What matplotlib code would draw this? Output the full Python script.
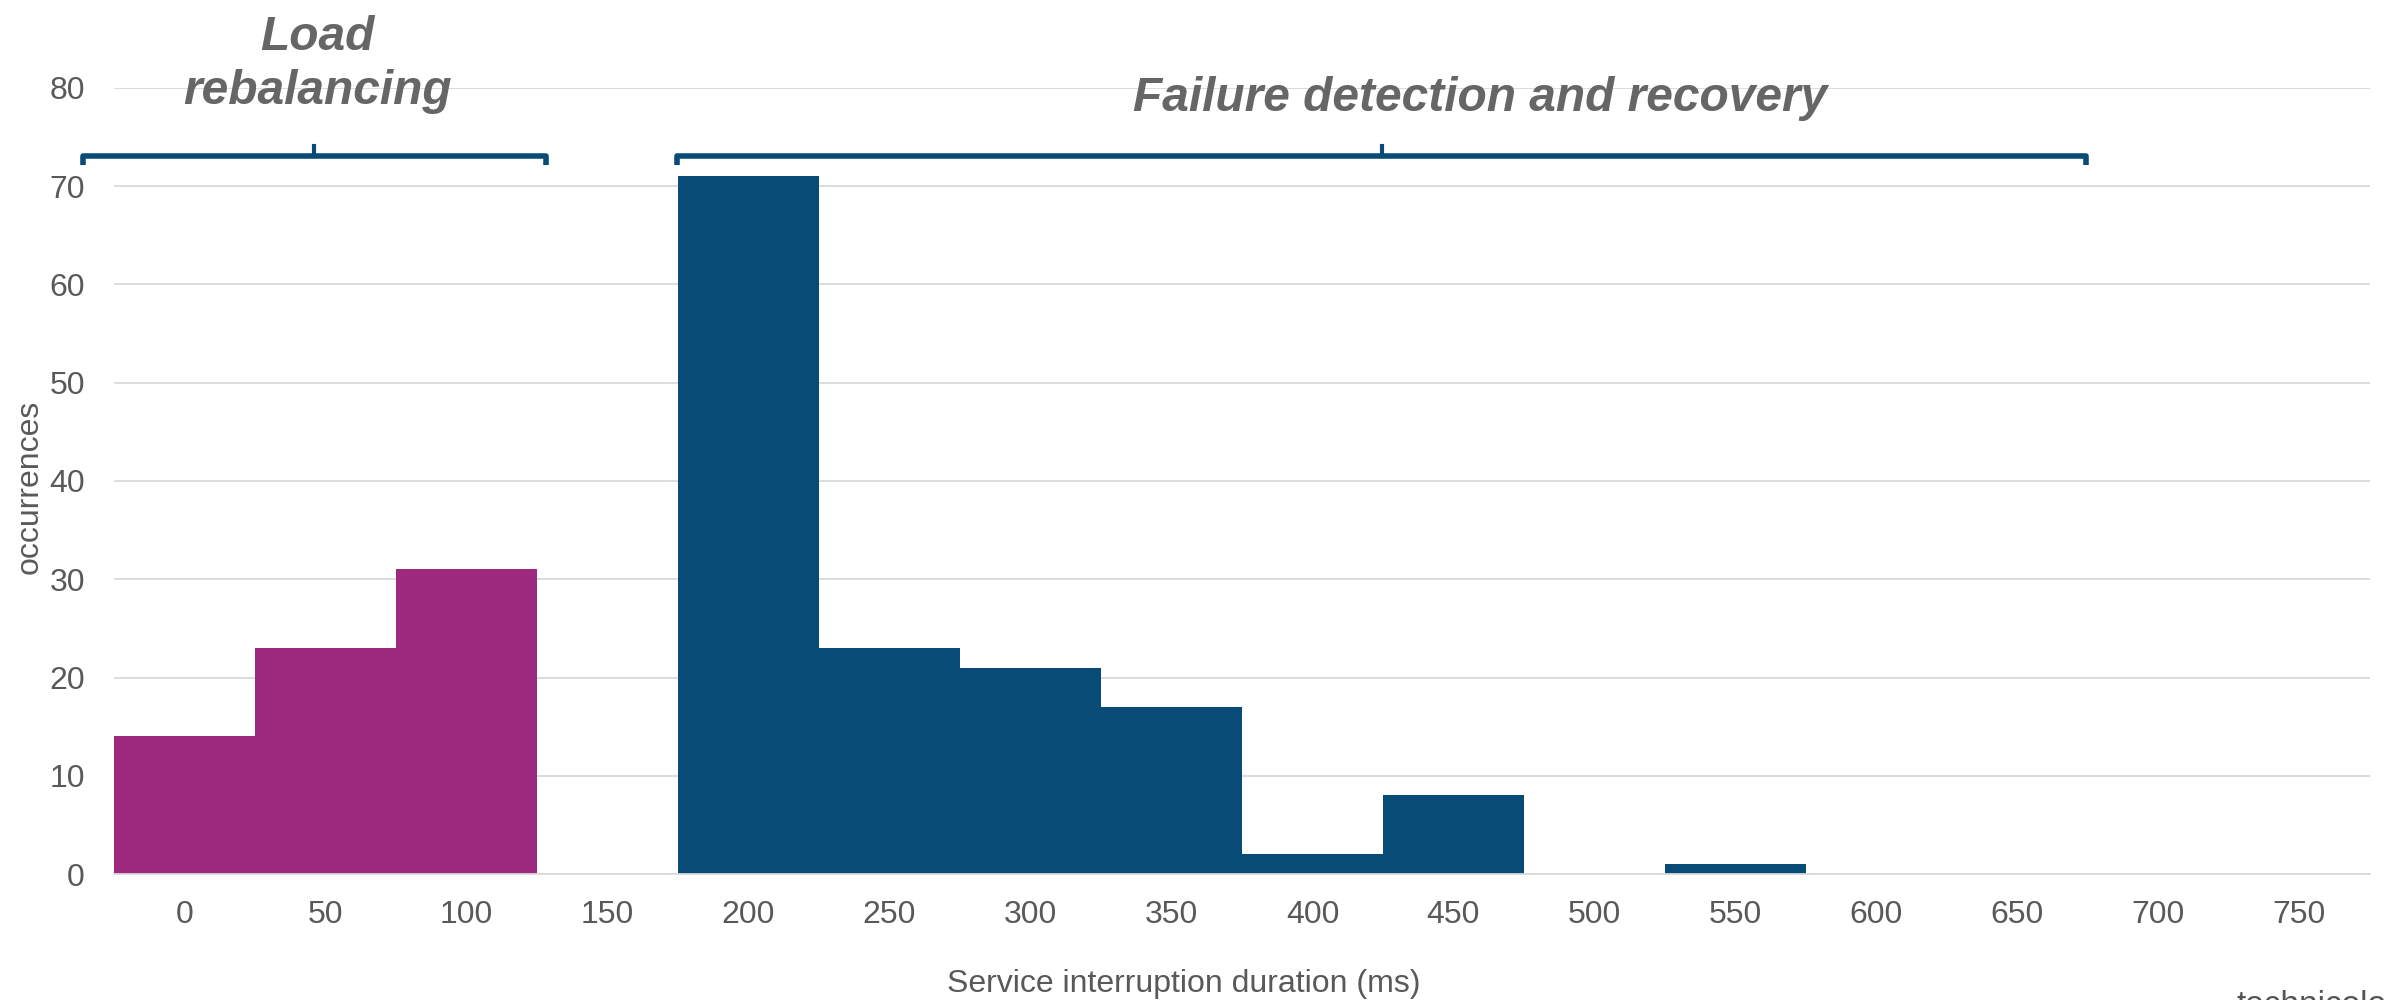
import numpy as np
import matplotlib.pyplot as plt

# Service interruption histogram (bins of 50 ms)
durations = [0, 50, 100, 150, 200, 250, 300, 350, 400, 450, 500, 550, 600, 650, 700, 750]
rebalancing = [14, 23, 31, 0, 0, 0, 0, 0, 0, 0, 0, 0, 0, 0, 0, 0]
failure = [0, 0, 0, 0, 71, 23, 21, 17, 2, 8, 0, 1, 0, 0, 0, 0]

magenta = '#9E2A7F'
blue = '#084B77'
grey = '#666666'
label_grey = '#595959'

plt.rcParams['font.family'] = ['Liberation Sans', 'DejaVu Sans']

fig = plt.figure(figsize=(23.87, 10), dpi=100)
ax = fig.add_axes([0.0478, 0.126, 0.945, 0.786])

x = np.arange(len(durations))
ax.bar(x, rebalancing, width=1.0, color=magenta, zorder=2)
ax.bar(x, failure, width=1.0, color=blue, zorder=2)

ax.set_xlim(-0.5, len(durations) - 0.5)
ax.set_ylim(0, 80)
ax.set_yticks(range(0, 81, 10))
ax.set_xticks(x)
ax.set_xticklabels([str(d) for d in durations])
ax.tick_params(axis='both', length=0, labelsize=23, labelcolor=label_grey)
ax.tick_params(axis='x', pad=19)
ax.tick_params(axis='y', pad=21)
ax.grid(axis='y', color='#D9D9D9', linewidth=1.3, zorder=0)
for side in ['top', 'right', 'left']:
    ax.spines[side].set_visible(False)
ax.spines['bottom'].set_color('#D9D9D9')
ax.spines['bottom'].set_linewidth(1.3)

# axis labels
fig.text(0.0126, 0.513, 'occurrences', fontsize=23, color=label_grey,
         rotation=90, ha='center', va='center')
fig.text(0.496, 0.016, 'Service interruption duration (ms)', fontsize=23,
         color=label_grey, ha='center', va='center')

# brackets over the two groups
def bracket(x0, x1, xc):
    y_line, y_hook, y_tick = 73.1, 72.2, 74.1
    ax.plot([x0, x0, x1, x1], [y_hook, y_line, y_line, y_hook], color=blue,
            lw=4, solid_joinstyle='round', solid_capstyle='butt', clip_on=False, zorder=3)
    ax.plot([xc, xc], [y_line, y_tick], color=blue, lw=3, clip_on=False, zorder=3)

bracket(-0.72, 2.56, 0.92)
bracket(3.49, 13.49, 8.49)

title_kw = dict(fontsize=34.5, fontweight='bold', style='italic', color=grey,
                ha='center', va='baseline', clip_on=False)
ax.text(0.94, 83.9, 'Load', **title_kw)
ax.text(0.94, 78.4, 'rebalancing', **title_kw)
ax.text(9.19, 77.7, 'Failure detection and recovery', **title_kw)

# logo text, cut by the bottom edge as in the original
fig.text(0.937, 0.010, 'technicolor', fontsize=24, color='#555555', ha='left', va='top')

fig.savefig('out.png', dpi=100)
